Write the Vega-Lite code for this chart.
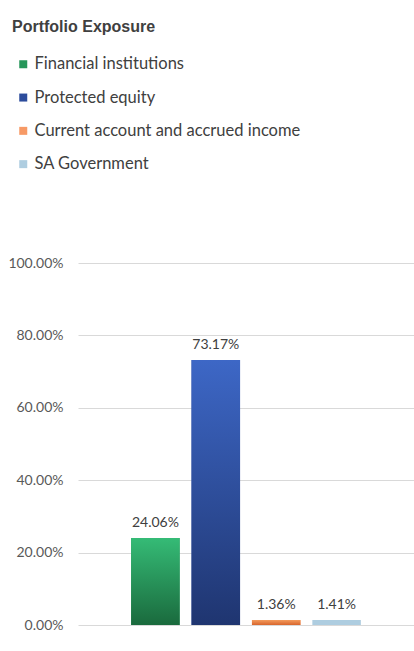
{
  "$schema": "https://vega.github.io/schema/vega-lite/v6.json",
  "autosize": {"type": "none"},
  "width": 336,
  "height": 362,
  "padding": {"left": 78, "top": 263, "right": 0, "bottom": 26},
  "background": "white",
  "title": {
    "text": "Portfolio Exposure",
    "anchor": "start",
    "frame": "group",
    "orient": "top",
    "font": "Liberation Sans",
    "fontSize": 16,
    "fontWeight": "bold",
    "color": "#404040",
    "offset": 0,
    "dx": -66,
    "dy": -21
  },
  "config": {
    "view": {"stroke": null},
    "font": "Lato"
  },
  "data": {
    "values": [
      {"category": "Financial institutions", "value": 0.2406},
      {"category": "Protected equity", "value": 0.7317},
      {"category": "Current account and accrued income", "value": 0.0136},
      {"category": "SA Government", "value": 0.0141}
    ]
  },
  "encoding": {
    "x": {
      "field": "category",
      "type": "nominal",
      "sort": null,
      "axis": null,
      "scale": {"paddingInner": 0.197, "paddingOuter": 0.88}
    },
    "y": {
      "field": "value",
      "type": "quantitative",
      "scale": {"domain": [0, 1]},
      "axis": {
        "title": null,
        "format": ".2%",
        "values": [0, 0.2, 0.4, 0.6, 0.8, 1],
        "domain": false,
        "ticks": false,
        "labelPadding": 15,
        "labelFont": "Lato",
        "labelFontSize": 14,
        "labelColor": "#595959",
        "gridColor": "#d9d9d9",
        "gridWidth": 1
      }
    }
  },
  "layer": [
    {
      "mark": {"type": "bar"},
      "encoding": {
        "color": {
          "field": "category",
          "type": "nominal",
          "sort": null,
          "scale": {
            "domain": ["Financial institutions", "Protected equity", "Current account and accrued income", "SA Government"],
            "range": ["#26965a", "#2c4c9c", "#f79a66", "#aecde0"]
          },
          "legend": {
            "title": null,
            "orient": "none",
            "legendX": -63,
            "legendY": -207,
            "symbolType": "square",
            "symbolSize": 64,
            "symbolStrokeWidth": 0,
            "labelFont": "Lato",
            "labelFontSize": 16.5,
            "labelColor": "#404040",
            "labelOffset": 3,
            "rowPadding": 16.3,
            "labelLimit": 400
          }
        }
      }
    },
    {
      "transform": [{"filter": "datum.category === 'Financial institutions'"}],
      "mark": {"type": "bar", "color": {"gradient": "linear", "x1": 0, "y1": 0, "x2": 0, "y2": 1, "stops": [{"offset": 0, "color": "#35bb76"}, {"offset": 1, "color": "#1a6a3d"}]}}
    },
    {
      "transform": [{"filter": "datum.category === 'Protected equity'"}],
      "mark": {"type": "bar", "color": {"gradient": "linear", "x1": 0, "y1": 0, "x2": 0, "y2": 1, "stops": [{"offset": 0, "color": "#3d67c6"}, {"offset": 1, "color": "#1f3570"}]}}
    },
    {
      "transform": [{"filter": "datum.category === 'Current account and accrued income'"}],
      "mark": {"type": "bar", "color": {"gradient": "linear", "x1": 0, "y1": 0, "x2": 0, "y2": 1, "stops": [{"offset": 0, "color": "#f39a5c"}, {"offset": 1, "color": "#d8652c"}]}}
    },
    {
      "mark": {"type": "text", "baseline": "bottom", "dy": -8, "font": "Lato", "fontSize": 14, "color": "#404040"},
      "encoding": {
        "text": {"field": "value", "type": "quantitative", "format": ".2%"}
      }
    }
  ]
}
